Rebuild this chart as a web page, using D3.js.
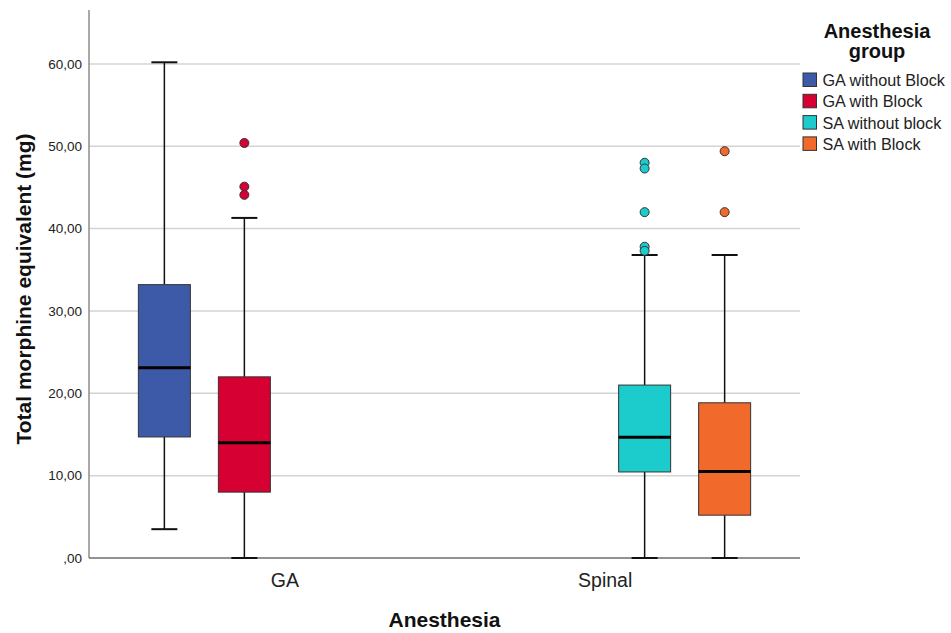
<!DOCTYPE html>
<html>
<head>
<meta charset="utf-8">
<script src="https://cdn.jsdelivr.net/npm/d3@7"></script>
<style>
  body { margin: 0; background: #fff; }
  svg { font-family: Arial, "Liberation Sans", sans-serif; }
</style>
</head>
<body>
<div id="chart"></div>
<script>
// Categories on the x axis
const categories = ["GA", "Spinal"];

// Series (legend groups)
const groups = ["GA without Block", "GA with Block", "SA without block", "SA with Block"];
const groupColors = ["#3d5aa8", "#d60032", "#1ccbcb", "#f2692c"];
const groupCategory = ["GA", "GA", "Spinal", "Spinal"];

// Box statistics
const lowWhisker  = [3.5, 0, 0, 0];
const q1          = [14.7, 8.0, 10.45, 5.2];
const medians     = [23.1, 14.0, 14.65, 10.5];
const q3          = [33.2, 22.0, 21.0, 18.85];
const highWhisker = [60.2, 41.3, 36.8, 36.8];

// Outliers for each series
const outliers = [
  [],
  [50.4, 45.1, 44.1],
  [48.0, 47.3, 42.0, 37.8, 37.3],
  [49.4, 42.0]
];

const yTicks = [0, 10, 20, 30, 40, 50, 60];

// Layout
const width = 951, height = 633;
const plot = { left: 89, right: 800, top: 10, bottom: 558 };

const svg = d3.select("#chart").append("svg")
  .attr("width", width)
  .attr("height", height);

// Scales
const y = d3.scaleLinear()
  .domain([0, 66.55])
  .range([plot.bottom, plot.top]);

const x = d3.scalePoint()
  .domain(categories)
  .range([plot.left, plot.right])
  .padding(0.61);

const xSub = d3.scaleBand()
  .domain(groups)
  .range([-160, 160]);

const boxW = 52;

// comma decimals like the original
const fmt = v => v === 0 ? ",00" : d3.format(".2f")(v).replace(".", ",");

// Gridlines
svg.append("g")
  .selectAll("line")
  .data(yTicks.filter(d => d > 0))
  .join("line")
  .attr("x1", plot.left)
  .attr("x2", plot.right)
  .attr("y1", d => y(d))
  .attr("y2", d => y(d))
  .attr("stroke", "#d4d4d4")
  .attr("stroke-width", 1.5);

// Y axis
const yAxisG = svg.append("g")
  .attr("transform", `translate(${plot.left},0)`)
  .call(d3.axisLeft(y).tickValues(yTicks).tickFormat(fmt).tickSize(0).tickPadding(7));
yAxisG.select(".domain").remove();
yAxisG.selectAll("text")
  .attr("font-size", "13.5px")
  .attr("fill", "#222")
  .style("font-family", "Arial, 'Liberation Sans', sans-serif");

svg.append("line")
  .attr("x1", plot.left).attr("x2", plot.left)
  .attr("y1", plot.top).attr("y2", plot.bottom)
  .attr("stroke", "#8c8c8c")
  .attr("stroke-width", 1.5);

// X axis
const xAxisG = svg.append("g")
  .attr("transform", `translate(0,${plot.bottom})`)
  .call(d3.axisBottom(x).tickSize(0).tickPadding(0));
xAxisG.select(".domain").remove();
xAxisG.selectAll("text")
  .attr("dy", null)
  .attr("y", 29)
  .attr("font-size", "19.5px")
  .attr("fill", "#222")
  .style("font-family", "Arial, 'Liberation Sans', sans-serif");

svg.append("line")
  .attr("x1", plot.left).attr("x2", plot.right)
  .attr("y1", plot.bottom).attr("y2", plot.bottom)
  .attr("stroke", "#6e6e6e")
  .attr("stroke-width", 1.5);

// Boxes
const boxData = groups.map((g, i) => ({
  name: g,
  color: groupColors[i],
  cx: x(groupCategory[i]) + xSub(g) + xSub.bandwidth() / 2,
  lo: lowWhisker[i], q1: q1[i], med: medians[i], q3: q3[i], hi: highWhisker[i],
  out: outliers[i]
}));

const boxes = svg.append("g")
  .selectAll("g")
  .data(boxData)
  .join("g");

// whisker stems
boxes.append("line")
  .attr("x1", d => d.cx).attr("x2", d => d.cx)
  .attr("y1", d => y(d.q3)).attr("y2", d => y(d.hi))
  .attr("stroke", "#111").attr("stroke-width", 1.5);
boxes.append("line")
  .attr("x1", d => d.cx).attr("x2", d => d.cx)
  .attr("y1", d => y(d.q1)).attr("y2", d => y(d.lo))
  .attr("stroke", "#111").attr("stroke-width", 1.5);

// whisker caps
boxes.append("line")
  .attr("x1", d => d.cx - boxW / 4).attr("x2", d => d.cx + boxW / 4)
  .attr("y1", d => y(d.hi)).attr("y2", d => y(d.hi))
  .attr("stroke", "#111").attr("stroke-width", 2);
boxes.append("line")
  .attr("x1", d => d.cx - boxW / 4).attr("x2", d => d.cx + boxW / 4)
  .attr("y1", d => y(d.lo)).attr("y2", d => y(d.lo))
  .attr("stroke", "#111").attr("stroke-width", 2);

// box
boxes.append("rect")
  .attr("x", d => d.cx - boxW / 2)
  .attr("width", boxW)
  .attr("y", d => y(d.q3))
  .attr("height", d => y(d.q1) - y(d.q3))
  .attr("fill", d => d.color)
  .attr("stroke", "#333")
  .attr("stroke-width", 1);

// median
boxes.append("line")
  .attr("x1", d => d.cx - boxW / 2).attr("x2", d => d.cx + boxW / 2)
  .attr("y1", d => y(d.med)).attr("y2", d => y(d.med))
  .attr("stroke", "#000").attr("stroke-width", 3);

// outliers
boxes.each(function(d) {
  d3.select(this).selectAll("circle")
    .data(d.out)
    .join("circle")
    .attr("cx", d.cx)
    .attr("cy", v => y(v))
    .attr("r", 4.5)
    .attr("fill", d.color)
    .attr("stroke", "#333")
    .attr("stroke-width", 1);
});

// Axis titles
svg.append("text")
  .attr("x", (plot.left + plot.right) / 2)
  .attr("y", 627)
  .attr("text-anchor", "middle")
  .attr("font-size", "21px")
  .attr("font-weight", "bold")
  .attr("fill", "#111")
  .text("Anesthesia");

svg.append("text")
  .attr("transform", `translate(31,289) rotate(-90)`)
  .attr("text-anchor", "middle")
  .attr("font-size", "21px")
  .attr("font-weight", "bold")
  .attr("fill", "#111")
  .text("Total morphine equivalent (mg)");

// Legend
const legend = svg.append("g");
legend.append("text")
  .attr("x", 877).attr("y", 38)
  .attr("text-anchor", "middle")
  .attr("font-size", "20px")
  .attr("font-weight", "bold")
  .attr("fill", "#111")
  .text("Anesthesia");
legend.append("text")
  .attr("x", 877).attr("y", 58)
  .attr("text-anchor", "middle")
  .attr("font-size", "20px")
  .attr("font-weight", "bold")
  .attr("fill", "#111")
  .text("group");

const items = legend.selectAll("g.item")
  .data(groups)
  .join("g")
  .attr("class", "item")
  .attr("transform", (d, i) => `translate(803,${73 + i * 21.3})`);
items.append("rect")
  .attr("width", 13.5).attr("height", 13.5)
  .attr("fill", (d, i) => groupColors[i])
  .attr("stroke", "#333")
  .attr("stroke-width", 1);
items.append("text")
  .attr("x", 19.5).attr("y", 13)
  .attr("font-size", "16.2px")
  .attr("fill", "#222")
  .text(d => d);
</script>
</body>
</html>
